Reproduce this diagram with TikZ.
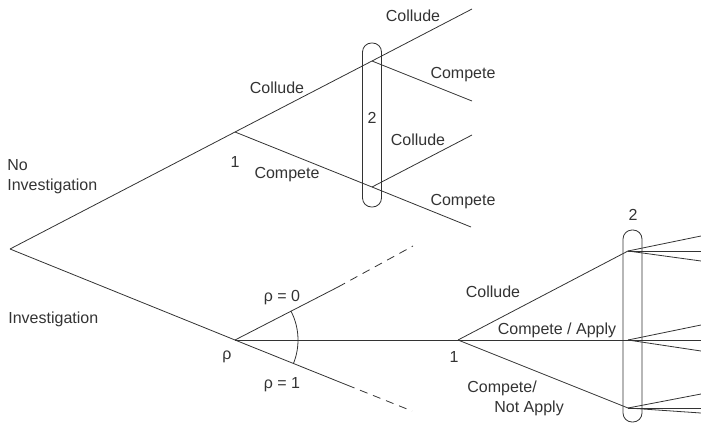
\documentclass[tikz,border=0pt]{standalone}
\usepackage{fontspec}
\setmainfont{Liberation Sans}

\begin{document}
\begin{tikzpicture}[x=1pt, y=-1pt, line width=0.8pt, color=black!80, font=\fontsize{16}{20}\selectfont]
\tikzstyle{lbl} = [inner sep=0pt]
\tikzstyle{infoset} = [rectangle, rounded corners=9pt, minimum width=19pt, inner sep=0pt, draw]
\tikzstyle{guess} = [dash pattern=on 8pt off 6pt]

\useasboundingbox (0,0) rectangle (701,423);

% Decision points
\coordinate (root) at (10,249);
\coordinate (firm1a) at (235,132);
\coordinate (firm2a) at (372,61);
\coordinate (firm2b) at (372,187);
\coordinate (nature) at (235,340);
\coordinate (firm1b) at (458,340);
\coordinate (firm2c) at (628,251);
\coordinate (firm2d) at (628,340);
\coordinate (firm2e) at (628,408);

% Ends
\coordinate (end1) at (472,9);
\coordinate (end2) at (472,101);
\coordinate (end3) at (472,135);
\coordinate (end4) at (471,227);
\coordinate (rho0) at (338,287);
\coordinate (rho0end) at (413,246);
\coordinate (rho1) at (347,385);
\coordinate (rho1end) at (412,411);
\coordinate (fan1a) at (701,236);
\coordinate (fan1b) at (701,251);
\coordinate (fan1c) at (701,261);
\coordinate (fan2a) at (701,325);
\coordinate (fan2b) at (701,340);
\coordinate (fan2c) at (701,351);
\coordinate (fan3a) at (701,394);
\coordinate (fan3b) at (701,408);
\coordinate (fan3c) at (701,413);

% Information sets
\node (set2a) [infoset, minimum height=164pt] at (372,125) {};
\node (set2b) [infoset, minimum height=192pt] at (632.5,326) {};

% Labels
\node (noinv) [lbl, align=left, anchor=west] at (7,177) {No\\Investigation};
\node (inv) [lbl, anchor=west] at (8,319) {Investigation};
\node (coll1) [lbl] at (277,88) {Collude};
\node (comp1) [lbl] at (287,175) {Compete};
\node (one1) [lbl] at (235,162) {1};
\node (coll2) [lbl] at (413,16) {Collude};
\node (comp2) [lbl] at (463,75) {Compete};
\node (two1) [lbl] at (372,118) {2};
\node (coll3) [lbl] at (418,140) {Collude};
\node (comp3) [lbl] at (463,202) {Compete};
\node (rhozero) [lbl] at (282,298) {ρ = 0};
\node (rholbl) [lbl] at (227,357) {ρ};
\node (rhoone) [lbl] at (282,385) {ρ = 1};
\node (coll4) [lbl] at (493,292) {Collude};
\node (apply) [lbl] at (557,330) {Compete / Apply};
\node (one2) [lbl] at (454,357) {1};
\node (noapply) [lbl, align=left, anchor=west] at (467,398) {Compete/\\\hspace*{27pt}Not Apply};
\node (two2) [lbl] at (633,215) {2};

% Draws
% No investigation branch
\draw (root) -- (firm1a) -- (firm2a) -- (end1);
\draw (firm1a) -- (firm2b) -- (end4);
\draw (firm2a) -- (end2);
\draw (firm2b) -- (end3);

% Investigation branch
\draw (root) -- (nature);
\draw (nature) -- (rho0);
\draw [guess] (rho0) -- (rho0end);
\draw (nature) -- (rho1);
\draw [guess] (rho1) -- (rho1end);
\draw ([shift={(27.2:63pt)}]nature) arc[start angle=27.2, end angle=-21.9, radius=63pt];
\draw (nature) -- (firm1b);
\draw (firm1b) -- (firm2c);
\draw (firm1b) -- (firm2d);
\draw (firm1b) -- (firm2e);

% Fans
\draw (firm2c) -- (fan1a);
\draw (firm2c) -- (fan1b);
\draw (firm2c) -- (fan1c);
\draw (firm2d) -- (fan2a);
\draw (firm2d) -- (fan2b);
\draw (firm2d) -- (fan2c);
\draw (firm2e) -- (fan3a);
\draw (firm2e) -- (fan3b);
\draw (firm2e) -- (fan3c);
\end{tikzpicture}
\end{document}
